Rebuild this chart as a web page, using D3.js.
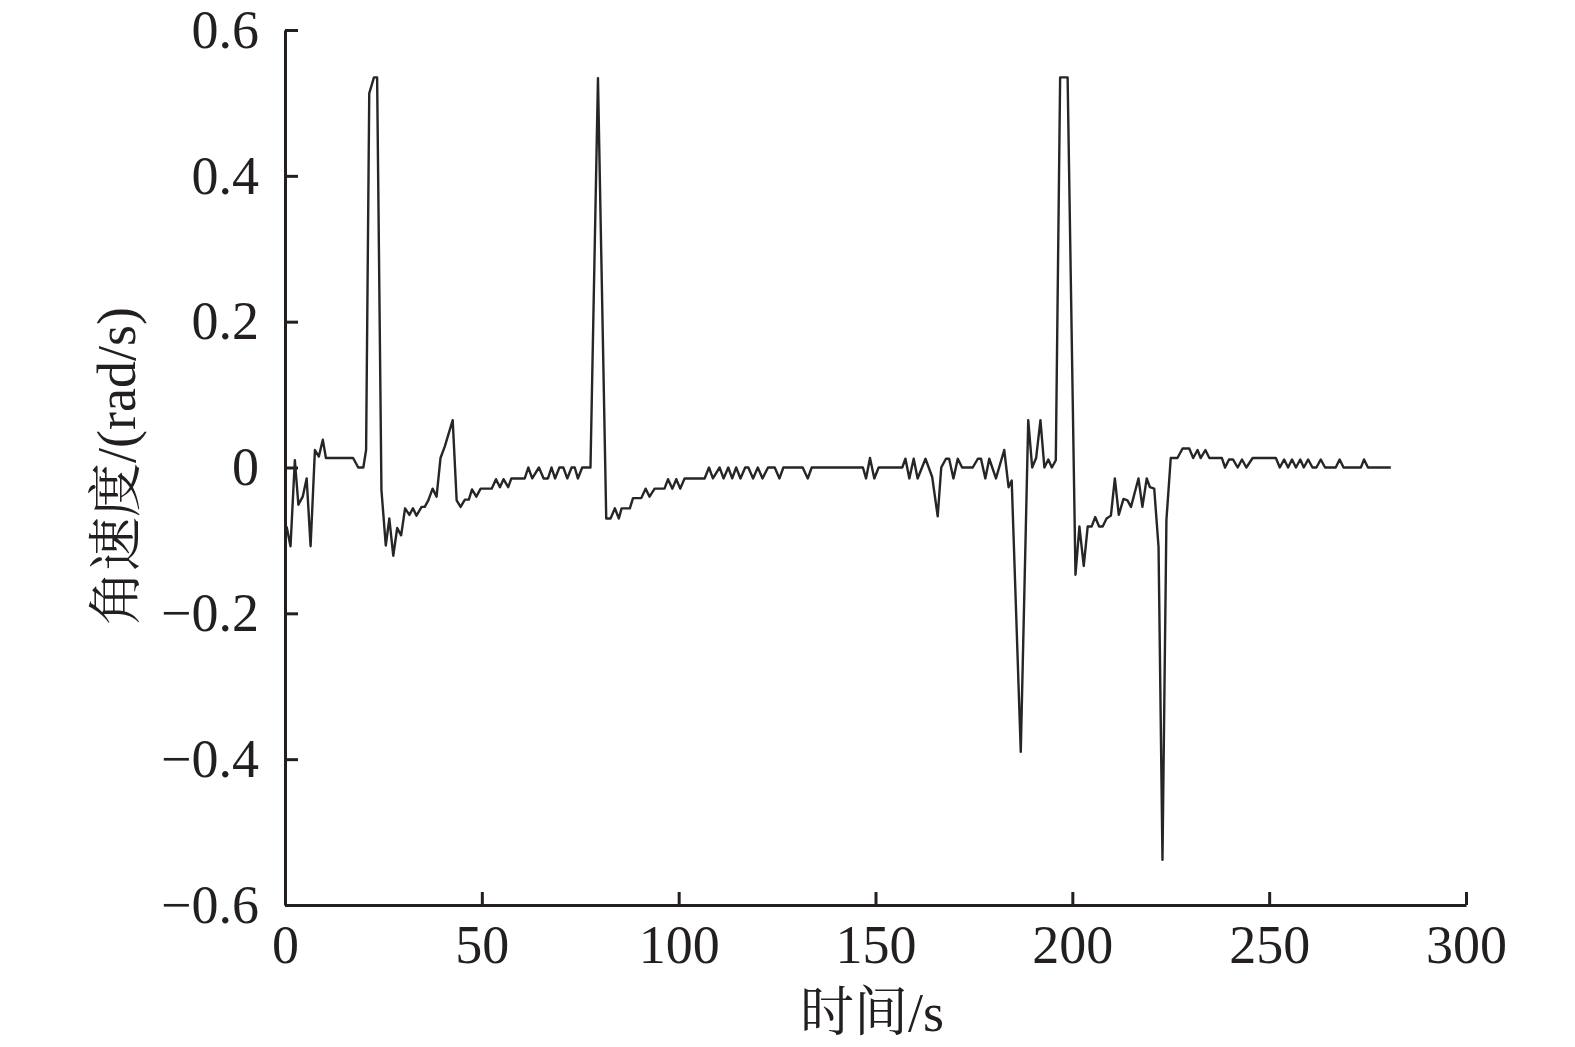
<!DOCTYPE html>
<html>
<head>
<meta charset="utf-8">
<script src="https://cdn.jsdelivr.net/npm/d3@7"></script>
<style>
  html, body { margin: 0; padding: 0; background: #fff; }
  svg { display: block; }
</style>
</head>
<body>
<svg width="1575" height="1047"></svg>
<script>
// time samples (s)
var times = [
  0.4, 1.4, 2.5, 3.4, 4.5, 5.5, 6.5, 7.6, 8.6, 9.6, 10.4, 17.3, 18.6, 19.9, 20.6,
  21.4, 22.6, 23.4, 24.5, 25.6, 26.5, 27.5, 28.5, 29.5, 30.5, 31.6, 32.5, 33.4,
  34.7, 35.5, 36.4, 37.5, 38.5, 39.5, 40.6, 42.6, 43.6, 44.6, 45.7, 46.7, 47.5,
  48.6, 49.7, 52.5, 53.6, 54.6, 55.5, 56.7, 57.5, 60.9, 61.8, 62.8, 64.5, 65.7,
  66.8, 67.7, 68.6, 69.7, 70.7, 71.7, 72.8, 73.6, 74.4, 75.5, 77.6, 79.5, 81.6,
  82.7, 83.8, 84.8, 85.5, 87.6, 88.4, 90.5, 91.6, 92.6, 93.9, 96.4, 97.3, 98.4,
  99.4, 100.4, 101.5, 106.6, 107.7, 108.7, 110.4, 111.4, 112.6, 113.6, 114.6,
  115.7, 116.9, 117.7, 118.9, 120.1, 121.3, 122.7, 124.4, 125.6, 126.6, 131.5,
  132.8, 133.8, 146.8, 147.6, 148.6, 149.7, 150.8, 156.8, 157.6, 158.6, 159.7,
  160.7, 162.7, 164.4, 165.8, 166.7, 167.9, 168.7, 169.8, 170.9, 172, 174.7, 176,
  176.8, 177.9, 178.9, 180.6, 182.7, 183.8, 184.6, 186.9, 188.8, 189.8, 190.8,
  191.9, 192.9, 193.9, 194.8, 195.8, 196.9, 198.8, 200.8, 201.8, 202.9, 203.9,
  204.9, 205.8, 206.8, 207.7, 208.7, 209.8, 210.8, 211.8, 213, 214, 214.9, 216.8,
  217.8, 218.9, 219.7, 220.8, 221.9, 222.9, 223.9, 225, 226.7, 228, 229.7, 230.7,
  231.8, 232.6, 233.8, 234.8, 238, 238.8, 239.8, 240.8, 242, 243.1, 244.2, 245.8,
  251.7, 252.7, 253.8, 254.8, 255.8, 256.8, 257.9, 258.8, 259.9, 261, 262, 263.1,
  264.2, 266.9, 267.9, 268.9, 273.3, 274.1, 275.1, 280.9
];

// angular velocity (rad/s)
var speeds = [
  -0.081, -0.108, 0.010, -0.051, -0.040, -0.015, -0.108, 0.024, 0.015, 0.038, 0.013, 0.013, 0, 0, 0.024,
  0.513, 0.535, 0.535, -0.031, -0.107, -0.070, -0.121, -0.083, -0.093, -0.056, -0.065, -0.056, -0.066,
  -0.054, -0.054, -0.045, -0.029, -0.040, 0.013, 0.029, 0.065, -0.045, -0.054, -0.044, -0.044, -0.030,
  -0.040, -0.029, -0.029, -0.016, -0.027, -0.016, -0.027, -0.015, -0.015, 0, -0.015, 0, -0.015,
  -0.015, 0, -0.015, 0, 0, -0.015, 0, 0, -0.015, 0, 0, 0.534, -0.070,
  -0.070, -0.056, -0.070, -0.056, -0.056, -0.042, -0.042, -0.029, -0.040, -0.029, -0.029, -0.016, -0.029,
  -0.016, -0.029, -0.015, -0.015, 0, -0.015, 0, -0.015, 0, -0.015, 0,
  -0.015, 0, 0, -0.015, 0, -0.015, 0, 0, -0.015, 0, 0,
  -0.015, 0, 0, -0.015, 0.013, -0.015, 0, 0, 0.012, -0.015, 0.012,
  -0.015, 0.012, -0.013, -0.067, 0, 0.012, 0.012, -0.015, 0.012, 0, 0, 0.012,
  0.012, -0.015, 0.012, -0.015, 0.024, -0.027, -0.018, -0.390, 0.065, 0, 0.013,
  0.065, 0, 0.011, 0, 0.010, 0.535, 0.535, -0.147, -0.081, -0.135, -0.081,
  -0.081, -0.068, -0.081, -0.081, -0.070, -0.066, -0.015, -0.065, -0.043, -0.045, -0.054, -0.015,
  -0.054, -0.015, -0.027, -0.029, -0.109, -0.538, -0.072, 0.013, 0.013, 0.026, 0.026, 0.013,
  0.024, 0.013, 0.024, 0.013, 0.013, 0, 0.011, 0.011, 0, 0.011, 0, 0.013,
  0.013, 0, 0.011, 0, 0.011, 0, 0.011, 0, 0.011, 0, 0, 0.011,
  0, 0, 0.011, 0, 0, 0.011, 0, 0
];

var xTicks = [0, 50, 100, 150, 200, 250, 300];
var yTicks = [-0.6, -0.4, -0.2, 0, 0.2, 0.4, 0.6];
var xTitle = "时间/s";
var yTitle = "角速度/(rad/s)";

// The svg
var svg = d3.select("svg");
var fontNum = "'Times New Roman', 'Liberation Serif', serif";
var fontTitle = "'Times New Roman', 'Liberation Serif', 'Noto Serif CJK SC', 'Noto Sans CJK SC', serif";

// plot area (note: "top" is taken by window.top, so use other names)
var plotLeft = 285, plotRight = 1466, plotTop = 30, plotBottom = 905;

var x = d3.scaleLinear().domain([0, 300]).range([plotLeft, plotRight]);
var y = d3.scaleLinear().domain([-0.6, 0.6]).range([plotBottom, plotTop]);

var points = times.map(function(t, i) { return [t, speeds[i]]; });

// ticks point inwards
var xAxis = d3.axisBottom(x)
  .tickValues(xTicks)
  .tickSizeInner(-13)
  .tickSizeOuter(0)
  .tickPadding(20)
  .tickFormat(d3.format("d"));

var yAxis = d3.axisLeft(y)
  .tickValues(yTicks)
  .tickSizeInner(-13)
  .tickSizeOuter(0)
  .tickPadding(26)
  .tickFormat(function(d) {
    if (d === 0) return "0";
    return (d < 0 ? "\u2212" : "") + Math.abs(d).toFixed(1);
  });

var gx = svg.append("g")
  .attr("transform", "translate(0," + plotBottom + ")")
  .call(xAxis);

var gy = svg.append("g")
  .attr("transform", "translate(" + plotLeft + ",0)")
  .call(yAxis);

[gx, gy].forEach(function(g) {
  g.select(".domain").attr("stroke", "#231f20").attr("stroke-width", 3);
  g.selectAll(".tick line").attr("stroke", "#231f20").attr("stroke-width", 3);
  g.selectAll(".tick text")
    .attr("fill", "#231f20")
    .style("font-family", fontNum)
    .style("font-size", "54px");
});

// the signal
var line = d3.line()
  .x(function(d) { return x(d[0]); })
  .y(function(d) { return y(d[1]); });

svg.append("path")
  .datum(points)
  .attr("d", line)
  .attr("fill", "none")
  .attr("stroke", "#262626")
  .attr("stroke-width", 2.4)
  .attr("stroke-linejoin", "round");

// axis titles
svg.append("text")
  .attr("x", 872)
  .attr("y", 1031)
  .attr("text-anchor", "middle")
  .attr("fill", "#231f20")
  .style("font-family", fontTitle)
  .style("font-size", "54px")
  .text(xTitle);

svg.append("text")
  .attr("transform", "translate(135,466) rotate(-90)")
  .attr("text-anchor", "middle")
  .attr("fill", "#231f20")
  .style("font-family", fontTitle)
  .style("font-size", "54px")
  .text(yTitle);
</script>
</body>
</html>
